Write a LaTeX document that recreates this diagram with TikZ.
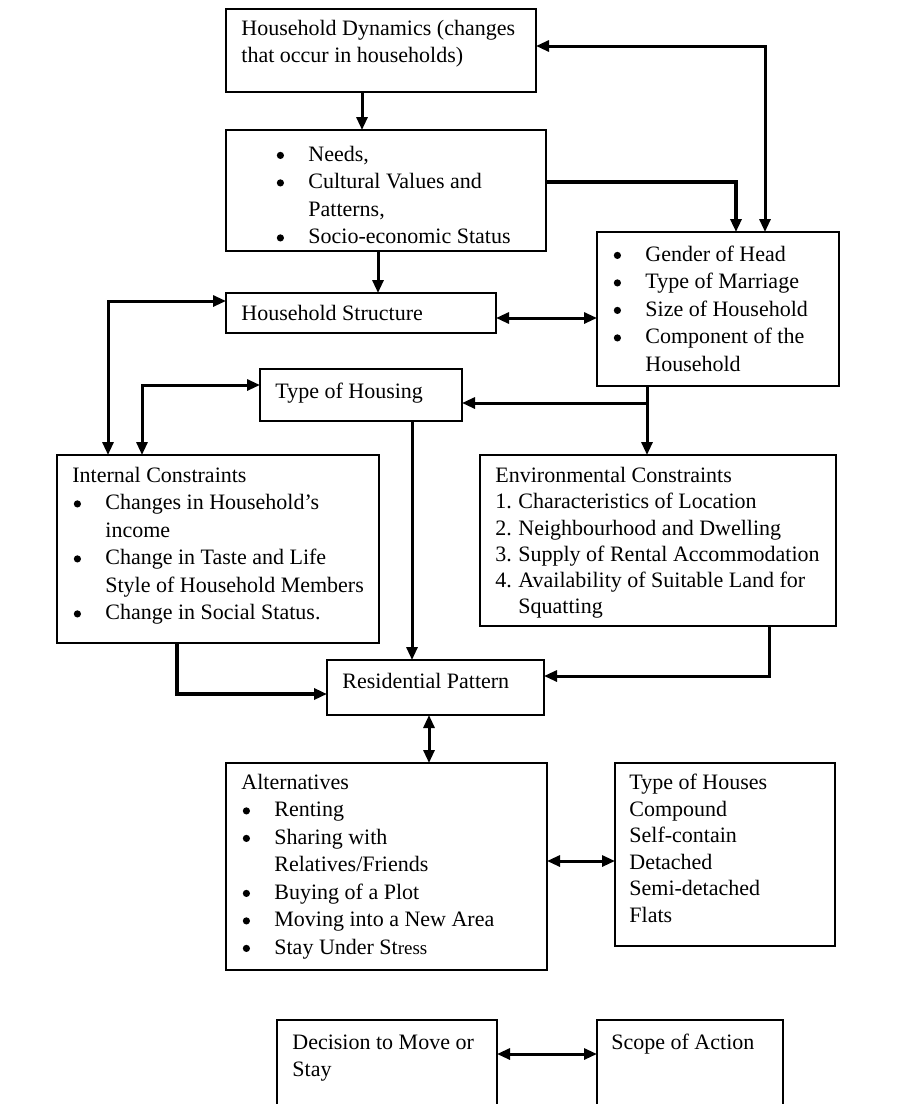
\documentclass[tikz,border=0pt]{standalone}
\usepackage{fontspec}
\setmainfont{Liberation Serif}
\usetikzlibrary{arrows.meta,calc}
\newcommand\mydot{\tikz[baseline=0pt]\fill (0pt,3pt) circle[radius=1.8pt];}
\newcommand\mybul{\makebox[16.5pt][r]{\mydot\hspace{12.2pt}}}
\newcommand\myind{\makebox[16.5pt]{}}
\begin{document}
\begin{tikzpicture}[x=0.5pt,y=-0.5pt,
  box/.style={draw, line width=0.7pt, anchor=north west, inner sep=0pt, outer sep=0pt},
  txt/.style={anchor=north west, align=left, inner sep=0pt, font=\fontsize{11}{13.75}\selectfont},
  con/.style={line width=1.5pt},
  arr/.style={con, -{Triangle[length=6.5pt,width=5.5pt]}},
  darr/.style={con, {Triangle[length=6.5pt,width=5.5pt]}-{Triangle[length=6.5pt,width=5.5pt]}},
]
\useasboundingbox (0,0) rectangle (903,1104);

% boxes
\node[box, minimum width=155pt, minimum height=41.5pt] (b1) at (226,9) {};
\node[box, minimum width=160pt, minimum height=60.5pt] (b2) at (226,130) {};
\node[box, minimum width=121pt, minimum height=77pt] (b3) at (597,232) {};
\node[box, minimum width=135pt, minimum height=20pt] (hs) at (226,293) {};
\node[box, minimum width=101pt, minimum height=26pt] (toh) at (260,369) {};
\node[box, minimum width=161pt, minimum height=94pt] (ic) at (57,455) {};
\node[box, minimum width=178pt, minimum height=85.5pt] (ec) at (480,455) {};
\node[box, minimum width=108.5pt, minimum height=27.5pt] (rp) at (327,660) {};
\node[box, minimum width=160.5pt, minimum height=103.5pt] (alt) at (226,763) {};
\node[box, minimum width=110pt, minimum height=91.5pt] (hou) at (615,763) {};
\node[box, minimum width=110pt, minimum height=55pt] (dec) at (277,1020) {};
\node[box, minimum width=93pt, minimum height=55pt] (scope) at (597,1020) {};

% texts
\node[txt] (t1) at (241,15.75) {\strut Household Dynamics (changes\\that occur in households)};
\node[txt] (t2) at (275,141.75) {\strut\mybul Needs,\\\mybul Cultural Values and\\\myind Patterns,\\\mybul Socio-economic Status};
\node[txt] (t3) at (612,241.75) {\strut\mybul Gender of Head\\\mybul Type of Marriage\\\mybul Size of Household\\\mybul Component of the\\\myind Household};
\node[txt] (t4) at (241,300.75) {\strut Household Structure};
\node[txt] (t5) at (275,378.75) {\strut Type of Housing};
\node[txt] (t6) at (72,462.75) {\strut Internal Constraints\\\mybul Changes in Household’s\\\myind income\\\mybul Change in Taste and Life\\\myind Style of Household Members\\\mybul Change in Social Status.};
\node[txt, font=\fontsize{11}{13.15}\selectfont] (t7) at (495,463.6) {\strut Environmental Constraints\\\makebox[11.5pt][l]{1.}Characteristics of Location\\\makebox[11.5pt][l]{2.}Neighbourhood and Dwelling\\\makebox[11.5pt][l]{3.}Supply of Rental Accommodation\\\makebox[11.5pt][l]{4.}Availability of Suitable Land for\\\makebox[11.5pt]{}Squatting};
\node[txt] (t8) at (342,668.75) {\strut Residential Pattern};
\node[txt] (t9) at (241,769.75) {\strut Alternatives\\\mybul Renting\\\mybul Sharing with\\\myind Relatives/Friends\\\mybul Buying of a Plot\\\mybul Moving into a New Area\\\mybul Stay Under St{\fontsize{9.5}{13.75}\selectfont ress}};
\node[txt, font=\fontsize{11}{13.3}\selectfont] (t10) at (629,770.4) {\strut Type of Houses\\Compound\\Self-contain\\Detached\\Semi-detached\\Flats};
\node[txt] (t11) at (292,1029.75) {\strut Decision to Move or\\Stay};
\node[txt] (t12) at (611,1029.75) {\strut Scope of Action};

% connectors
\coordinate (j) at (647,403);
\draw[arr] (362,0 |- b1.south) -- (362,0 |- b2.north);
\draw[arr, line width=2pt] (b2.east |- 0,182) -| (736,0 |- b3.north);
\draw[darr] (b1.east |- 0,46) -| (765,0 |- b3.north);
\draw[arr] (378,0 |- b2.south) -- (378,0 |- hs.north);
\draw[darr] (hs.east |- 0,318) -- (b3.west |- 0,318);
\draw[darr] (hs.west |- 0,301) -| (108,0 |- ic.north);
\draw[darr] (toh.west |- 0,385) -| (142,0 |- ic.north);
\draw[arr] (j |- b3.south) -- (j |- ec.north);
\draw[arr] (j) -- (toh.east |- j);
\draw[arr] (412,0 |- toh.south) -- (412,0 |- rp.north);
\draw[arr, line width=2pt] (177,0 |- ic.south) |- (rp.west |- 0,694);
\draw[arr] (769,0 |- ec.south) |- (rp.east |- 0,676);
\draw[darr] (429,0 |- rp.south) -- (429,0 |- alt.north);
\draw[darr] (alt.east |- 0,861) -- (hou.west |- 0,861);
\draw[darr] (dec.east |- 0,1054) -- (scope.west |- 0,1054);
\end{tikzpicture}
\end{document}
